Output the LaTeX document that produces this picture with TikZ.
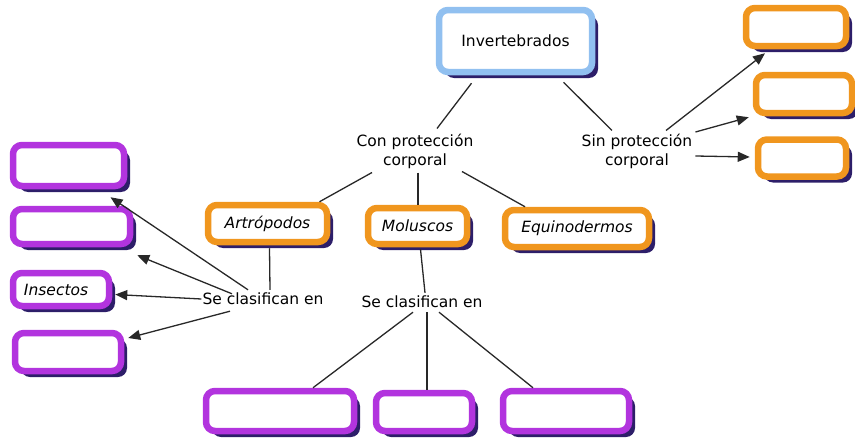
\documentclass[tikz,border=0pt]{standalone}
\usepackage{fontspec}
\setmainfont{DejaVu Sans}
\usetikzlibrary{shadows,arrows.meta}
\definecolor{shadowc}{RGB}{45,30,105}
\definecolor{orangec}{RGB}{240,150,30}
\definecolor{purplec}{RGB}{178,52,222}
\definecolor{bluec}{RGB}{145,192,240}
\definecolor{linec}{RGB}{40,40,40}
\tikzset{
  cbox/.style={draw=#1, line width=6.5pt, rounded corners=9pt, fill=white,
    drop shadow={shadow xshift=6pt, shadow yshift=-6pt, fill=shadowc, opacity=1},
    inner sep=0pt, font=\fontsize{15.5}{19}\selectfont},
  lbl/.style={inner sep=1pt, align=center, font=\fontsize{15.5}{19}\selectfont},
  conn/.style={draw=linec, line width=1.3pt},
  arr/.style={conn, -{Triangle[length=12pt,width=10pt]}},
}
\begin{document}
\begin{tikzpicture}[x=1pt,y=-1pt]
\useasboundingbox (0,0) rectangle (855,439);
% main nodes
\node[cbox=bluec, minimum width=153, minimum height=62] (inv) at (515.5,41) {Invertebrados};
\node[lbl] (con) at (415,151) {Con protección\\corporal};
\node[lbl] (sin) at (637,151) {Sin protección\\corporal};
\node[cbox=orangec, minimum width=119, minimum height=37] (art) at (267.5,223.5) {\itshape Artrópodos};
\node[cbox=orangec, minimum width=99, minimum height=36] (mol) at (417.5,226) {\itshape Moluscos};
\node[cbox=orangec, minimum width=144, minimum height=37] (equ) at (577,228.5) {\itshape Equinodermos};
\node[lbl] (sel) at (263,299) {Se clasifican en};
\node[lbl] (sem) at (422,302) {Se clasifican en};
% right boxes
\node[cbox=orangec, minimum width=100, minimum height=38] (r1) at (796,27) {};
\node[cbox=orangec, minimum width=96, minimum height=38] (r2) at (804,94) {};
\node[cbox=orangec, minimum width=88, minimum height=37] (r3) at (802,158) {};
% left boxes
\node[cbox=purplec, minimum width=111, minimum height=41] (l1) at (68.5,165.5) {};
\node[cbox=purplec, minimum width=117, minimum height=35] (l2) at (71.5,226.5) {};
\node[cbox=purplec, minimum width=96, minimum height=33, text width=84, align=left] (l3) at (61,289.5) {\hspace*{5pt}\itshape Insectos};
\node[cbox=purplec, minimum width=106, minimum height=38] (l4) at (68,352) {};
% bottom boxes
\node[cbox=purplec, minimum width=148, minimum height=40] (b1) at (280,411) {};
\node[cbox=purplec, minimum width=96, minimum height=38] (b2) at (424,412) {};
\node[cbox=purplec, minimum width=126, minimum height=40] (b3) at (566,411) {};
% connectors
\draw[conn] ([shift={(-44,8)}]inv.south) -- ([shift={(22,-4)}]con.north);
\draw[conn] ([shift={(48,7)}]inv.south) -- ([shift={(-25,-2)}]sin.north);
\draw[conn] ([shift={(-43,3)}]con.south) -- ([shift={(52,0)}]art.north);
\draw[conn] ([shift={(3,3)}]con.south) -- ([shift={(0.5,0)}]mol.north);
\draw[conn] ([shift={(47,2)}]con.south) -- ([shift={(-52,0)}]equ.north);
\draw[conn] ([shift={(2,3)}]art.south) -- ([shift={(7,-2)}]sel.north);
\draw[arr] ([shift={(-15,-2)}]sel.north) -- ([shift={(42,8)}]l1.south);
\draw[arr] ([shift={(-31,2)}]sel.north) -- ([shift={(4,8)}]l2.south east);
\draw[arr] (sel.west) -- ([shift={(3,5)}]l3.east);
\draw[arr] ([shift={(-33,5)}]sel.south) -- ([shift={(4,-14)}]l4.east);
\draw[conn] ([shift={(3,2)}]mol.south) -- ([shift={(3,-2)}]sem.north);
\draw[conn] ([shift={(-9,3)}]sem.south) -- ([shift={(33,0)}]b1.north);
\draw[conn] ([shift={(5,3)}]sem.south) -- ([shift={(3,0)}]b2.north);
\draw[conn] ([shift={(17,3)}]sem.south) -- ([shift={(-33,0)}]b3.north);
\draw[arr] ([shift={(29,-2)}]sin.north) -- ([shift={(-31,4)}]r1.south);
\draw[arr] ([shift={(2,-19)}]sin.east) -- ([shift={(-4,1)}]r2.south west);
\draw[arr] ([shift={(2,5)}]sin.east) -- ([shift={(-5,-1)}]r3.west);
\end{tikzpicture}
\end{document}
